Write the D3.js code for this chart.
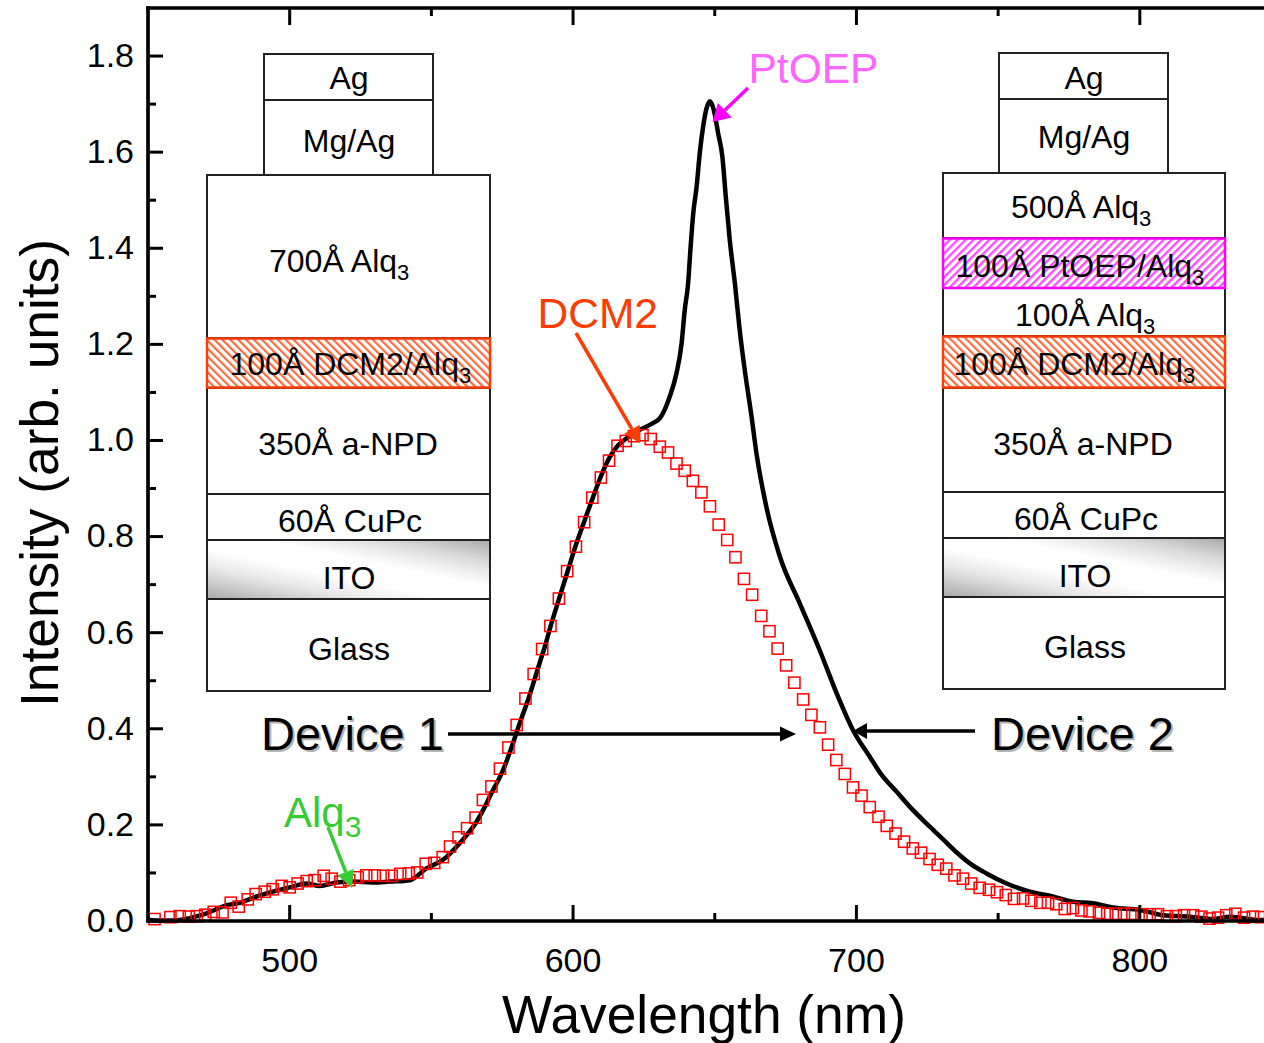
<!DOCTYPE html>
<html>
<head>
<meta charset="utf-8">
<script src="https://cdn.jsdelivr.net/npm/d3@7"></script>
<style>
  html, body { margin: 0; padding: 0; background: #fff; overflow: hidden; }
  svg { display: block; }
  text { font-family: "Liberation Sans", Arial, sans-serif; }
</style>
</head>
<body>
<div id="chart"></div>
<script>
/* Device 2 spectrum (black line) */
const device2Wl = [450.6, 452.4, 458.7, 464.7, 470.7, 477.8, 482.4, 488.4, 494, 500, 506, 510.6, 516.6, 522.2, 529.3, 535.3, 542.4, 548.4, 554, 560, 566, 569.5, 570.6, 575.3, 578.8, 581.2, 584.1, 588.2, 590.4, 592, 595.3, 598.2, 601.2, 604.1, 607.1, 610, 613, 615.9, 618.8, 623.5, 628.2, 630.6, 634.1, 636.5, 638.3, 639.4, 640.6, 641.4, 642.4, 643.6, 644.7, 645.9, 647.1, 648.3, 649.7, 651.2, 652.7, 653.9, 655.3, 657.1, 658.8, 660.6, 663, 664.7, 668.2, 673, 680, 687, 693.5, 698.8, 704.7, 708.9, 714.2, 718.8, 724.7, 730.6, 735.3, 740, 745.9, 753, 761.2, 769.3, 776.4, 783.4, 790.5, 800, 808.2, 817.7, 825.8, 831.8, 842.4, 850];
const device2Val = [0.002, 0.001, 0.001, 0.006, 0.016, 0.033, 0.038, 0.051, 0.061, 0.070, 0.078, 0.073, 0.080, 0.082, 0.080, 0.082, 0.085, 0.110, 0.127, 0.162, 0.207, 0.245, 0.259, 0.314, 0.370, 0.412, 0.460, 0.537, 0.578, 0.612, 0.675, 0.730, 0.786, 0.834, 0.883, 0.928, 0.966, 0.990, 1.004, 1.022, 1.036, 1.046, 1.091, 1.140, 1.202, 1.271, 1.327, 1.396, 1.472, 1.528, 1.597, 1.653, 1.691, 1.706, 1.687, 1.639, 1.590, 1.507, 1.417, 1.327, 1.230, 1.146, 1.049, 0.974, 0.862, 0.758, 0.661, 0.564, 0.467, 0.397, 0.342, 0.304, 0.269, 0.238, 0.203, 0.170, 0.143, 0.120, 0.099, 0.078, 0.061, 0.051, 0.040, 0.037, 0.028, 0.023, 0.012, 0.009, 0.004, 0.009, 0.002, 0.003];

/* Device 1 spectrum (red squares) */
const device1Wl = [452.3, 457.9, 461.2, 464.4, 467.2, 470.2, 473.2, 476.3, 479.2, 482, 485.2, 488, 491.2, 494, 497.2, 500, 502.8, 506, 508.8, 512, 514.8, 517.9, 521, 524, 527, 530, 533, 536, 539, 542, 545, 548, 551, 554, 556.6, 559.6, 562.6, 565.6, 568.2, 571.2, 574.2, 577.2, 580.1, 583.2, 586.1, 589.1, 592, 595, 597.9, 601, 603.9, 606.8, 609.8, 612.7, 615.7, 618.6, 621.5, 624.5, 627.4, 630.6, 633.5, 636.5, 639.4, 642.3, 645.3, 648.3, 651.4, 654.4, 657.3, 660.3, 663.2, 666.4, 669.3, 672.2, 675.2, 678.1, 681.2, 684.1, 687.1, 690, 692.9, 695.9, 698.8, 701.8, 704.7, 707.8, 710.7, 713.8, 716.8, 719.9, 722.8, 725.8, 728.7, 731.7, 734.6, 737.6, 740.5, 743.5, 746.8, 749.6, 752.7, 755.6, 758.8, 761.7, 764.9, 767.6, 770.5, 773.5, 776.4, 779.4, 782.3, 785.6, 788.5, 791.5, 794.4, 797.4, 800.6, 803.5, 806.4, 809.6, 812.7, 815.6, 818.8, 821.7, 824.6, 827.6, 830.5, 833.7, 836.8, 839.9, 842.8, 846];
const device1Val = [0.004, 0.008, 0.010, 0.009, 0.010, 0.013, 0.019, 0.018, 0.038, 0.030, 0.045, 0.056, 0.061, 0.066, 0.073, 0.070, 0.078, 0.083, 0.085, 0.094, 0.088, 0.082, 0.085, 0.091, 0.095, 0.095, 0.094, 0.094, 0.098, 0.099, 0.101, 0.119, 0.121, 0.133, 0.155, 0.174, 0.193, 0.215, 0.252, 0.280, 0.317, 0.361, 0.408, 0.463, 0.514, 0.566, 0.614, 0.671, 0.728, 0.779, 0.830, 0.881, 0.923, 0.958, 0.989, 0.999, 1.009, 1.011, 1.003, 0.987, 0.975, 0.952, 0.937, 0.916, 0.892, 0.863, 0.825, 0.793, 0.757, 0.712, 0.679, 0.635, 0.603, 0.567, 0.532, 0.496, 0.461, 0.429, 0.403, 0.367, 0.335, 0.306, 0.278, 0.261, 0.237, 0.217, 0.198, 0.182, 0.165, 0.151, 0.142, 0.129, 0.117, 0.109, 0.095, 0.088, 0.078, 0.069, 0.065, 0.060, 0.054, 0.046, 0.047, 0.042, 0.038, 0.038, 0.035, 0.025, 0.027, 0.022, 0.020, 0.017, 0.015, 0.015, 0.015, 0.015, 0.014, 0.014, 0.014, 0.010, 0.010, 0.012, 0.012, 0.009, 0.005, 0.007, 0.012, 0.015, 0.007, 0.009, 0.008, 0.009];

const xMajor = [500, 600, 700, 800];
const xMinor = [550, 650, 750];
const yMajor = [0, 0.2, 0.4, 0.6, 0.8, 1.0, 1.2, 1.4, 1.6, 1.8];
const yMinor = [0.1, 0.3, 0.5, 0.7, 0.9, 1.1, 1.3, 1.5, 1.7];

const width = 1264,
      height = 1043,
      margin = ({ top: 8, left: 148, bottom: 921, right: 1281.5 });

let svg = d3.select("#chart")
    .append("svg")
    .attr("width", width)
    .attr("height", height)
    .attr("viewBox", [0, 0, width, height]);

let x = d3.scaleLinear().domain([450, 850]).range([margin.left, margin.right]);
let y = d3.scaleLinear().domain([0, 1.9]).range([margin.bottom, margin.top]);

/* fills for the stacks */
let defs = svg.append("defs");

function hatch(id, colour, angle, lw) {
    let p = defs.append("pattern")
        .attr("id", id)
        .attr("patternUnits", "userSpaceOnUse")
        .attr("width", 5.6)
        .attr("height", 5.6)
        .attr("patternTransform", `rotate(${angle})`);
    p.append("rect").attr("width", 5.6).attr("height", 5.6).attr("fill", "#fff");
    p.append("rect").attr("width", lw).attr("height", 5.6).attr("fill", colour);
}
hatch("hatchDcm", "#ff6a3c", -45, 2.2);
hatch("hatchPt", "#ff4dff", 45, 2.4);

let ito = defs.append("linearGradient")
    .attr("id", "ito")
    .attr("x1", 0).attr("y1", 1)
    .attr("x2", 1).attr("y2", 0);
ito.append("stop").attr("offset", 0).attr("stop-color", "#a8a8a8");
ito.append("stop").attr("offset", 0.25).attr("stop-color", "#e4e4e4");
ito.append("stop").attr("offset", 0.42).attr("stop-color", "#ffffff");
ito.append("stop").attr("offset", 0.6).attr("stop-color", "#ffffff");
ito.append("stop").attr("offset", 0.8).attr("stop-color", "#dcdcdc");
ito.append("stop").attr("offset", 1).attr("stop-color", "#a8a8a8");

/* label with an optional subscript 3 */
function label(sel, x0, base, anchor, size, colour, main, sub, subSize, subDy) {
    let t = sel.append("text")
        .attr("x", x0)
        .attr("y", base)
        .attr("text-anchor", anchor)
        .attr("font-size", size)
        .attr("fill", colour)
        .text(main);
    if (sub) {
        t.append("tspan")
            .attr("font-size", subSize || 22)
            .attr("dy", subDy || 7.5)
            .text(sub);
    }
    return t;
}

/* [x, y, w, h, fill, stroke, strokeWidth, text, sub, textX, baseline, anchor] */
const stackOne = [
    [264, 54, 169, 46, "#fff", "#222", 2, "Ag", "", 349, 89, "middle"],
    [264, 100, 169, 75, "#fff", "#222", 2, "Mg/Ag", "", 349, 152, "middle"],
    [207, 175, 283, 163, "#fff", "#222", 2, "700Å Alq", "3", 269, 272, "start"],
    [207, 388, 283, 106, "#fff", "#222", 2, "350Å a-NPD", "", 348, 455, "middle"],
    [207, 494, 283, 46, "#fff", "#222", 2, "60Å CuPc", "", 350, 532, "middle"],
    [207, 599, 283, 92, "#fff", "#222", 2, "Glass", "", 349, 660, "middle"],
    [207, 540, 283, 59, "url(#ito)", "#222", 2, "ITO", "", 349, 589, "middle"],
    [207, 338.5, 283, 49, "url(#hatchDcm)", "#ff3c00", 2.5, "100Å DCM2/Alq", "3", 229.5, 375, "start"]
];
const stackTwo = [
    [999, 53, 169, 46, "#fff", "#222", 2, "Ag", "", 1084, 89, "middle"],
    [999, 99, 169, 74, "#fff", "#222", 2, "Mg/Ag", "", 1084, 148, "middle"],
    [943, 173, 282, 65, "#fff", "#222", 2, "500Å Alq", "3", 1011, 218, "start"],
    [943, 288, 282, 48, "#fff", "#222", 2, "100Å Alq", "3", 1015, 326, "start"],
    [943, 388, 282, 104, "#fff", "#222", 2, "350Å a-NPD", "", 1083, 455, "middle"],
    [943, 492, 282, 46, "#fff", "#222", 2, "60Å CuPc", "", 1086, 530, "middle"],
    [943, 597, 282, 92, "#fff", "#222", 2, "Glass", "", 1085, 658, "middle"],
    [943, 538, 282, 59, "url(#ito)", "#222", 2, "ITO", "", 1085, 587, "middle"],
    [943, 238.5, 282, 49.5, "url(#hatchPt)", "#ff00ff", 2.5, "100Å PtOEP/Alq", "3", 955.5, 277, "start"],
    [943, 336.5, 282, 51, "url(#hatchDcm)", "#ff3c00", 2.5, "100Å DCM2/Alq", "3", 953.5, 375, "start"]
];

function drawStack(layers) {
    let g = svg.append("g");
    layers.forEach(d => {
        g.append("rect")
            .attr("x", d[0]).attr("y", d[1])
            .attr("width", d[2]).attr("height", d[3])
            .attr("fill", d[4])
            .attr("stroke", d[5])
            .attr("stroke-width", d[6]);
    });
    layers.forEach(d => label(g, d[9], d[10], d[11], 32, "#000", d[7], d[8]));
}
drawStack(stackOne);
drawStack(stackTwo);

/* spectra */
let line = d3.line()
    .x((d, i) => x(device2Wl[i]))
    .y(d => y(d))
    .curve(d3.curveMonotoneX);

svg.append("path")
    .datum(device2Val)
    .attr("d", line)
    .attr("fill", "none")
    .attr("stroke", "#000")
    .attr("stroke-width", 4.5)
    .attr("stroke-linejoin", "round");

svg.append("g")
    .selectAll("rect")
    .data(device1Val)
    .join("rect")
    .attr("x", (d, i) => x(device1Wl[i]) - 5.6)
    .attr("y", d => y(d) - 5.6)
    .attr("width", 11.2)
    .attr("height", 11.2)
    .attr("fill", "none")
    .attr("stroke", "#ff0000")
    .attr("stroke-width", 1.5);

/* axes */
function styleAxis(g) {
    g.select(".domain").attr("stroke-width", 3.2).attr("stroke-linecap", "square");
    g.selectAll("line").attr("stroke-width", 3);
    g.selectAll("text").attr("font-size", 34).attr("font-family", '"Liberation Sans", Arial, sans-serif').attr("fill", "#000");
}

svg.append("g")
    .attr("transform", `translate(0,${margin.bottom})`)
    .call(d3.axisBottom(x).offset(0).tickValues(xMajor).tickSizeInner(-16).tickSizeOuter(0).tickPadding(27).tickFormat(d3.format("d")))
    .call(styleAxis);
svg.append("g")
    .attr("transform", `translate(0,${margin.bottom})`)
    .call(d3.axisBottom(x).offset(0).tickValues(xMinor).tickSizeInner(-8).tickSizeOuter(0).tickFormat(""))
    .call(styleAxis);
svg.append("g")
    .attr("transform", `translate(0,${margin.top})`)
    .call(d3.axisTop(x).offset(0).tickValues(xMajor).tickSizeInner(-17).tickSizeOuter(0).tickFormat(""))
    .call(styleAxis);
svg.append("g")
    .attr("transform", `translate(0,${margin.top})`)
    .call(d3.axisTop(x).offset(0).tickValues(xMinor).tickSizeInner(-8).tickSizeOuter(0).tickFormat(""))
    .call(styleAxis);
svg.append("g")
    .attr("transform", `translate(${margin.left},0)`)
    .call(d3.axisLeft(y).offset(0).tickValues(yMajor).tickSizeInner(-15).tickSizeOuter(0).tickPadding(14).tickFormat(d3.format(".1f")))
    .call(styleAxis);
svg.append("g")
    .attr("transform", `translate(${margin.left},0)`)
    .call(d3.axisLeft(y).offset(0).tickValues(yMinor).tickSizeInner(-8).tickSizeOuter(0).tickFormat(""))
    .call(styleAxis);

svg.append("text")
    .attr("x", 704)
    .attr("y", 1033)
    .attr("text-anchor", "middle")
    .attr("font-size", 53.3)
    .text("Wavelength (nm)");

svg.append("text")
    .attr("transform", "translate(58,473) rotate(-90)")
    .attr("text-anchor", "middle")
    .attr("font-size", 53.3)
    .text("Intensity (arb. units)");

/* arrows */
function arrow(x1, y1, x2, y2, colour, lw, headLen, headHalf) {
    let a = Math.atan2(y2 - y1, x2 - x1),
        bx = x2 - headLen * Math.cos(a),
        by = y2 - headLen * Math.sin(a),
        nx = -Math.sin(a) * headHalf,
        ny = Math.cos(a) * headHalf;
    svg.append("line")
        .attr("x1", x1).attr("y1", y1)
        .attr("x2", bx).attr("y2", by)
        .attr("stroke", colour)
        .attr("stroke-width", lw);
    svg.append("polygon")
        .attr("points", [[x2, y2], [bx + nx, by + ny], [bx - nx, by - ny]].join(" "))
        .attr("fill", colour);
}

arrow(448, 734, 796, 734, "#000", 3.5, 16, 7.5);
arrow(975, 731, 853, 731, "#000", 3.5, 14, 8);
arrow(748, 88, 712.5, 122, "#ff00ff", 3.5, 17, 10);
arrow(576, 333, 640, 443, "#ff3c00", 3.5, 16, 9);
arrow(328, 827, 352, 888, "#33cc33", 3.5, 17, 8.5);

/* device captions with a soft shadow */
[["Device 1", 261], ["Device 2", 991]].forEach(d => {
    label(svg, d[1] + 2, 752, "start", 47, "#b5b5b5", d[0]);
    label(svg, d[1], 750, "start", 47, "#000", d[0]);
});

label(svg, 537.5, 328, "start", 42.5, "#ff3c00", "DCM2");
label(svg, 748.5, 83, "start", 42.5, "#ff66ff", "PtOEP");
label(svg, 284, 827, "start", 42, "#33cc33", "Alq", "3", 30, 10);
</script>
</body>
</html>
